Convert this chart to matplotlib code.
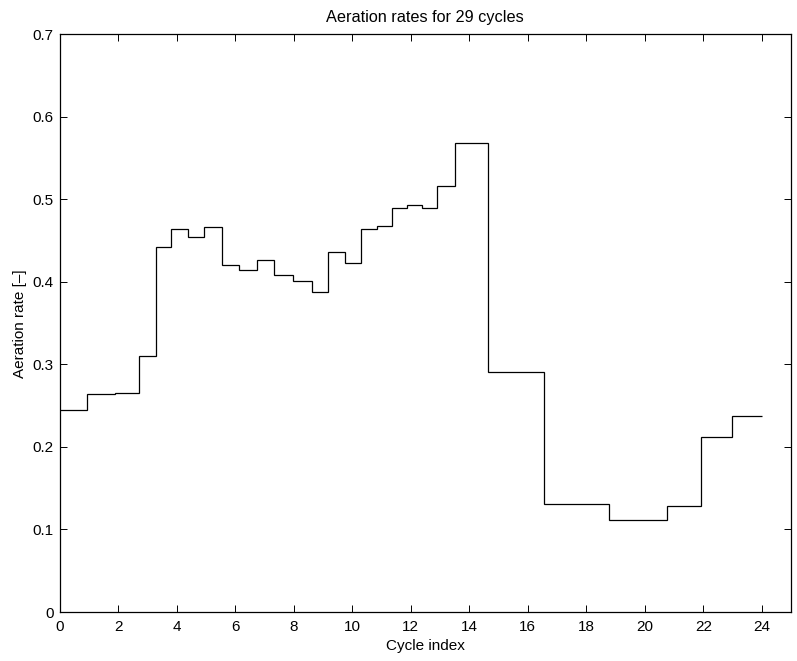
import numpy as np
import matplotlib
matplotlib.use('Agg')
import matplotlib.pyplot as plt

plt.rcParams['font.family'] = ['Liberation Sans', 'DejaVu Sans']
plt.rcParams['font.size'] = 11

# cycle boundaries (cycle index) and aeration rate per cycle
edges = [0.0, 0.94, 1.88, 2.70, 3.28, 3.82, 4.38, 4.92, 5.54, 6.14,
         6.73, 7.34, 7.96, 8.61, 9.18, 9.77, 10.31, 10.86, 11.36, 11.87,
         12.39, 12.89, 13.53, 14.64, 16.55, 18.78, 20.75, 21.93, 22.99, 24.0]
rates = [0.245, 0.264, 0.266, 0.310, 0.442, 0.464, 0.455, 0.467, 0.421, 0.415,
         0.426, 0.409, 0.401, 0.388, 0.436, 0.423, 0.464, 0.468, 0.490, 0.493,
         0.490, 0.516, 0.568, 0.291, 0.131, 0.112, 0.128, 0.212, 0.237]

fig = plt.figure(figsize=(7.97, 6.61), dpi=100)
ax = fig.add_axes([0.0749, 0.0741, 0.9176, 0.8739])

ax.stairs(rates, edges, baseline=None, color='k', linewidth=0.9)

ax.set_xlim(0, 25)
ax.set_ylim(0, 0.7)
ax.set_xticks(np.arange(0, 25, 2))
ax.set_yticks(np.arange(0, 0.71, 0.1))
ax.set_yticklabels(['0', '0.1', '0.2', '0.3', '0.4', '0.5', '0.6', '0.7'])
ax.tick_params(direction='in', length=5, top=True, right=True, width=0.7)
ax.tick_params(axis='x', pad=6)
ax.tick_params(axis='y', pad=4.5)
for s in ax.spines.values():
    s.set_linewidth(0.9)

ax.set_xlabel('Cycle index', labelpad=3.5)
ax.set_ylabel('Aeration rate [\u2013]', labelpad=4)
ax.set_title('Aeration rates for 29 cycles', fontsize=11.7, pad=9)

fig.savefig('out.png', dpi=100)
